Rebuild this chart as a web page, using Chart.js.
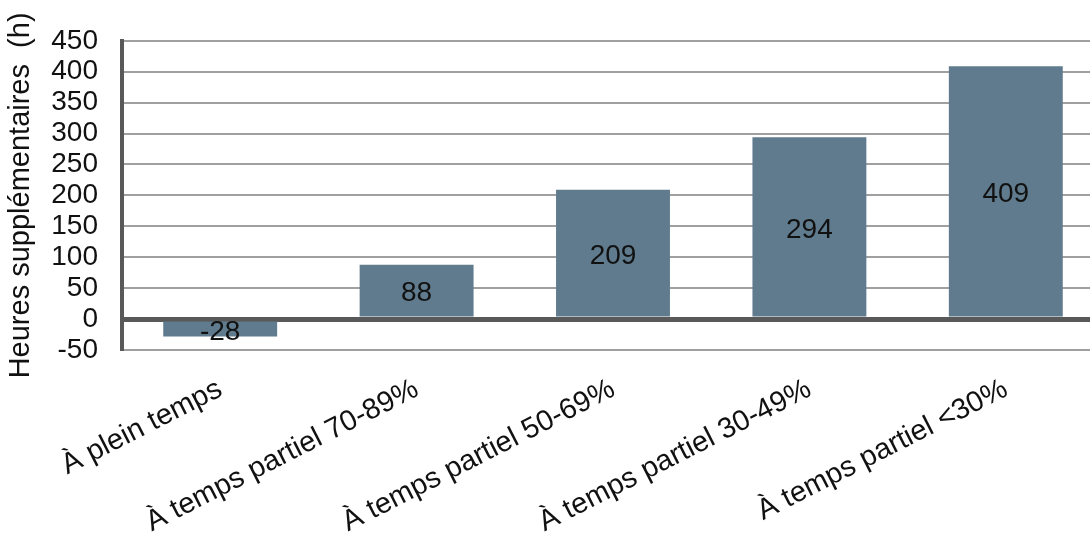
<!DOCTYPE html>
<html>
<head>
<meta charset="utf-8">
<script src="https://cdn.jsdelivr.net/npm/chart.js@4.4.0/dist/chart.umd.min.js"></script>
<style>
  html, body { margin: 0; padding: 0; background: #fff; overflow: hidden; }
  #wrap { width: 1104px; height: 533px; }
</style>
</head>
<body>
<div id="wrap"><canvas id="heuresChart"></canvas></div>
<script>
"use strict";

// données
const categories = ["À plein temps", "À temps partiel 70-89%", "À temps partiel 50-69%", "À temps partiel 30-49%", "À temps partiel <30%"];
const heures = [-28, 88, 209, 294, 409];
const yTicks = [-50, 0, 50, 100, 150, 200, 250, 300, 350, 400, 450];

const font = "'Liberation Sans', Arial, sans-serif";

// étiquettes au centre des barres
const barLabels = {
    id: "barLabels",
    afterDatasetsDraw(chart) {
        const ctx = chart.ctx;
        const meta = chart.getDatasetMeta(0);
        ctx.save();
        ctx.font = "28px " + font;
        ctx.fillStyle = "#111";
        ctx.textAlign = "center";
        ctx.textBaseline = "middle";
        meta.data.forEach((bar, i) => {
            const mid = (bar.y + bar.base) / 2;
            ctx.fillText(String(heures[i]), bar.x, mid + 3);
        });
        ctx.restore();
    }
};

new Chart(document.getElementById("heuresChart"), {
    type: "bar",
    data: {
        labels: categories,
        datasets: [{
            data: heures,
            backgroundColor: "#5f7b8d",
            categoryPercentage: 1,
            barPercentage: 0.58
        }]
    },
    options: {
        responsive: true,
        maintainAspectRatio: false,
        animation: false,
        layout: { padding: { top: 39, right: 0, left: 0, bottom: 0 } },
        plugins: { legend: { display: false }, tooltip: { enabled: false } },
        scales: {
            x: {
                grid: { display: false },
                border: { display: false },
                ticks: {
                    color: "#111",
                    font: { family: font, size: 29 },
                    minRotation: 27,
                    maxRotation: 27,
                    autoSkip: false,
                    padding: 14
                },
                afterFit(scale) { scale.height = 183; }
            },
            y: {
                min: -50,
                max: 450,
                afterBuildTicks(scale) { scale.ticks = yTicks.map(v => ({ value: v })); },
                grid: {
                    drawTicks: false,
                    color: ctx => ctx.tick && ctx.tick.value === 0 ? "#595959" : "#a0a0a0",
                    lineWidth: ctx => ctx.tick && ctx.tick.value === 0 ? 5 : 2
                },
                border: { color: "#595959", width: 4 },
                ticks: {
                    color: "#111",
                    font: { family: font, size: 28 },
                    autoSkip: false,
                    padding: 24
                },
                title: {
                    display: true,
                    text: "Heures supplémentaires  (h)",
                    color: "#111",
                    font: { family: font, size: 29 },
                    padding: 4
                },
                afterFit(scale) { scale.width = 122; }
            }
        }
    },
    plugins: [barLabels]
});
</script>
</body>
</html>
